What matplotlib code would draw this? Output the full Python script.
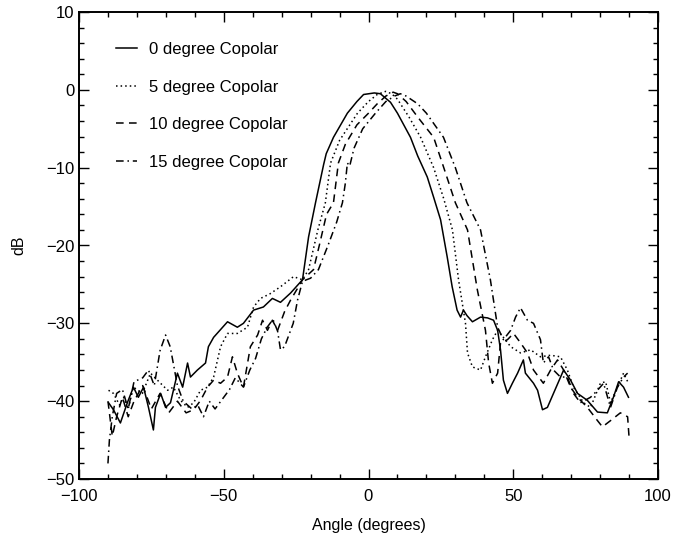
import matplotlib
matplotlib.use("Agg")
import matplotlib.pyplot as plt
from matplotlib.ticker import MultipleLocator

# ---- data ----
angle_0 = [-89.8, -88.1, -85.7, -83.3, -81.2, -79.5, -77.7, -76.0, -74.3, -73.6, -71.8, -70.1, -68.4,
           -66.0, -64.2, -62.5, -61.5, -59.1, -56.3, -55.3, -53.5, -48.7, -45.3, -43.2, -39.7, -36.3,
           -33.2, -30.4, -26.9, -22.8, -20.7, -18.3, -15.5, -14.6, -12.1, -7.3, -4.0, -1.7, 2.0, 4.1,
           7.6, 10.0, 14.5, 17.0, 20.3, 22.5, 24.9, 27.2, 28.9, 30.6, 31.8, 32.8, 34.0, 35.9, 38.7,
           41.1, 43.2, 44.6, 45.6, 46.6, 48.0, 49.7, 51.5, 53.5, 54.2, 57.0, 58.4, 60.1, 61.8, 63.9,
           67.4, 69.8, 72.2, 75.6, 79.1, 82.5, 84.6, 86.4, 88.1, 89.8]
db_0 = [-40.2, -41.1, -42.8, -40.2, -38.2, -39.5, -38.2, -40.8, -43.7, -40.8, -39.0, -40.8, -40.2,
        -36.4, -38.2, -35.1, -36.9, -36.0, -35.1, -33.0, -31.8, -29.8, -30.5, -30.0, -28.3, -27.9,
        -26.8, -27.3, -26.1, -24.4, -18.9, -14.5, -9.6, -8.2, -6.1, -3.0, -1.5, -0.6, -0.4, -0.5,
        -1.6, -3.0, -6.1, -8.5, -11.2, -13.8, -16.7, -21.5, -25.3, -28.3, -29.2, -28.3, -29.0, -29.8, -29.2,
        -29.3, -29.6, -30.9, -33.4, -37.3, -39.0, -37.7, -36.4, -34.7, -36.4, -37.7, -38.6, -41.1, -40.8, -39.0,
        -36.0, -37.3, -39.0, -39.9, -41.4, -41.5, -39.5, -37.5, -38.2, -39.5]

angle_5 = [-89.8, -88.1, -86.0, -84.6, -83.0, -81.2, -78.1, -75.3, -72.9, -69.4, -67.4, -64.9, -62.5,
           -60.4, -58.0, -55.6, -53.5, -51.1, -48.7, -45.3, -41.8, -39.7, -37.3, -34.0, -30.4, -25.9,
           -22.8, -20.7, -17.5, -14.9, -13.1, -10.0, -3.8, 0.0, 3.0, 5.9, 8.0, 10.0, 14.0, 18.0, 22.5,
           26.0, 29.0, 31.1, 33.5, 34.2, 35.9, 38.7, 40.4, 42.8, 44.6, 46.6, 49.1, 52.5, 56.0, 59.4,
           62.9, 66.3, 68.7, 70.8, 74.3, 76.7, 80.1, 81.9, 83.6, 86.0, 88.1, 89.8]
db_5 = [-38.6, -39.0, -40.5, -39.5, -41.0, -38.2, -39.0, -36.4, -37.3, -38.6, -38.2, -39.9, -40.8,
        -40.2, -38.6, -38.2, -36.9, -33.0, -31.3, -31.3, -30.5, -27.9, -26.8, -26.2, -25.3, -24.0,
        -24.4, -23.1, -18.0, -14.5, -9.4, -6.5, -3.0, -1.5, -0.6, -0.2, -0.5, -1.2, -3.5, -6.1, -10.0,
        -14.0, -18.0, -24.4, -30.0, -33.8, -35.6, -36.0, -34.3, -32.1, -30.9, -31.8, -33.0, -33.8, -33.4, -34.3,
        -34.1, -34.3, -36.0, -38.2, -40.2, -40.8, -37.7, -37.5, -40.2, -38.2, -36.4, -37.7]

angle_10 = [-90.0, -88.5, -87.0, -85.0, -83.0, -81.0, -78.0, -75.0, -72.0, -69.0, -66.0, -63.0, -60.4,
            -58.0, -55.6, -53.5, -51.1, -48.7, -47.0, -45.3, -43.2, -40.8, -38.3, -36.6, -34.9, -33.2,
            -31.4, -29.0, -26.9, -24.5, -22.8, -19.0, -17.0, -14.5, -12.1, -10.4, -8.0, -4.0, 0.0, 3.0,
            6.0, 8.5, 10.0, 13.0, 17.0, 22.5, 26.0, 30.0, 34.2, 37.6, 40.4, 41.5, 42.8, 44.6, 45.6, 48.0,
            50.1, 52.5, 54.9, 57.0, 60.4, 62.9, 65.3, 67.4, 69.8, 72.2, 75.6, 79.1, 80.8, 83.6, 87.0, 89.5, 90.0]
db_10 = [-40.0, -44.5, -42.0, -39.5, -42.0, -40.0, -38.0, -41.0, -39.0, -41.5, -40.0, -41.5, -41.1,
         -39.9, -38.2, -37.3, -37.7, -36.9, -34.3, -36.4, -38.2, -33.0, -31.5, -29.6, -30.9, -29.6,
         -30.9, -28.5, -27.0, -25.5, -24.4, -23.1, -20.0, -16.0, -14.5, -9.4, -7.0, -4.5, -3.0, -1.8,
         -0.8, -0.3, -0.5, -1.5, -3.5, -6.1, -10.0, -14.5, -18.0, -25.7, -30.9, -35.1, -37.7, -36.4, -32.5, -32.1,
         -31.3, -32.5, -33.8, -36.0, -37.7, -36.0, -34.7, -36.0, -38.2, -39.5, -40.8, -42.5, -43.3, -42.5, -41.5, -42.0, -44.6]

angle_15 = [-90.0, -89.5, -88.5, -87.0, -85.0, -83.0, -81.0, -78.0, -76.0, -74.0, -72.0, -70.1, -68.5,
            -66.0, -64.0, -61.0, -59.0, -57.0, -55.0, -53.0, -50.0, -48.0, -46.0, -43.2, -41.0, -39.0,
            -37.0, -35.0, -33.0, -31.4, -30.4, -29.0, -28.0, -26.0, -24.5, -22.8, -20.0, -17.3, -14.0,
            -11.0, -9.0, -8.0, -7.3, -6.5, -5.0, -2.0, 2.4, 6.0, 9.0, 11.0, 13.0, 17.0, 20.0, 25.9, 30.0,
            34.0, 38.7, 42.1, 44.6, 46.6, 49.1, 50.8, 52.5, 54.9, 57.0, 59.4, 60.4, 62.2, 63.9, 66.3, 68.7,
            70.8, 73.2, 76.7, 79.1, 81.2, 83.6, 86.0, 88.1, 89.5]
db_15 = [-48.0, -45.0, -42.0, -39.0, -38.5, -41.0, -37.5, -37.0, -36.0, -38.0, -33.5, -31.5, -33.0,
         -38.0, -40.0, -41.0, -40.5, -42.0, -40.0, -41.0, -39.5, -38.5, -37.0, -38.2, -36.0, -34.5,
         -32.0, -30.5, -29.5, -31.0, -33.4, -33.0, -32.0, -30.0, -27.0, -24.6, -24.2, -23.1, -20.0,
         -17.0, -14.5, -12.0, -9.4, -9.8, -7.5, -5.0, -3.0, -1.5, -0.8, -0.5, -0.8, -1.8, -3.0, -6.1, -10.0,
         -14.5, -18.0, -24.4, -30.5, -32.1, -30.9, -29.2, -28.0, -29.6, -30.0, -32.1, -35.1, -34.3, -36.0, -36.9, -36.9,
         -39.0, -40.2, -39.5, -38.6, -37.7, -40.8, -38.2, -36.9, -36.4]

labels = ["0 degree Copolar", "5 degree Copolar", "10 degree Copolar", "15 degree Copolar"]
xticks = [-100, -50, 0, 50, 100]
yticks = [-50, -40, -30, -20, -10, 0, 10]

plt.rcParams['font.family'] = ['Liberation Sans', 'DejaVu Sans']

fig = plt.figure(figsize=(6.83, 5.36), dpi=100)
ax = fig.add_axes([79/683, 1 - 479/536, (658-79)/683, (479-12)/536])

lw = 1.1
ax.plot(angle_0, db_0, color='black', lw=lw, ls='-', label=labels[0])
ax.plot(angle_5, db_5, color='black', lw=lw, ls=(0, (1, 2)), label=labels[1])
ax.plot(angle_10, db_10, color='black', lw=lw, ls=(0, (5, 3.5)), label=labels[2])
ax.plot(angle_15, db_15, color='black', lw=lw, ls=(0, (5, 2.5, 1, 2.5)), label=labels[3])

ax.set_xlim(-100, 100)
ax.set_ylim(-50, 10)
ax.set_xticks(xticks)
ax.set_yticks(yticks)
ax.xaxis.set_minor_locator(MultipleLocator(10))
ax.yaxis.set_minor_locator(MultipleLocator(2))
ax.tick_params(which='both', direction='in', top=True, right=True, width=1.0, labelsize=12)
ax.tick_params(which='major', length=7)
ax.tick_params(which='minor', length=3.5)
ax.tick_params(axis='x', pad=7)
for s in ax.spines.values():
    s.set_linewidth(1.4)

ax.set_xlabel("Angle (degrees)", fontsize=11.5, labelpad=10)
ax.set_ylabel("dB", fontsize=11.5, labelpad=14)

leg = ax.legend(loc='upper left', bbox_to_anchor=(0.052, 0.95), frameon=False, fontsize=12,
                handlelength=1.3, handletextpad=0.7, labelspacing=1.35, borderaxespad=0)

fig.savefig("out.png", dpi=100)
